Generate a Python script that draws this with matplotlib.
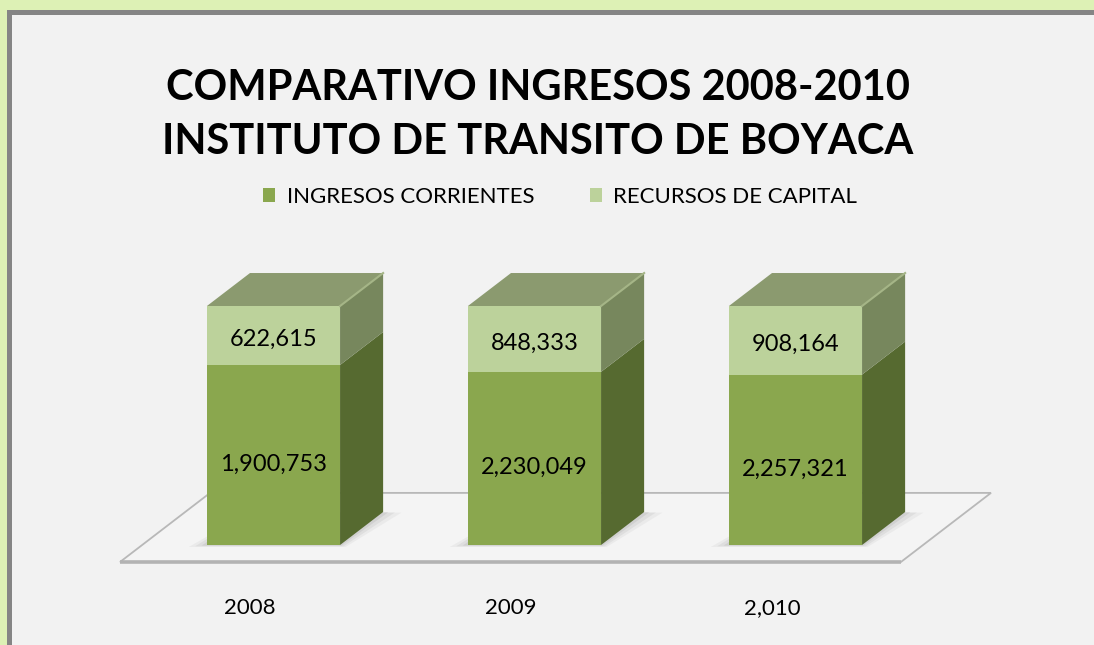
import matplotlib
matplotlib.use('Agg')
import matplotlib.pyplot as plt
from matplotlib.patches import Polygon, Rectangle
from matplotlib import font_manager
import numpy as np

# data
years = ['2008', '2009', '2,010']
ingresos_corrientes = [1900753, 2230049, 2257321]
recursos_capital = [622615, 848333, 908164]
series_names = ['INGRESOS CORRIENTES', 'RECURSOS DE CAPITAL']
title_lines = ['COMPARATIVO INGRESOS 2008-2010', 'INSTITUTO DE TRANSITO DE BOYACA']

W, H = 1094, 645
installed = {f.name for f in font_manager.fontManager.ttflist}
if 'Liberation Sans Narrow' in installed:
    title_font, title_size = 'Liberation Sans Narrow', 35
else:
    title_font, title_size = 'Lato', 30
body_font = 'Lato'

front = ['#8aa74e', '#bcd29b']
side = ['#566a30', '#77875d']
top_col = '#8b9a6f'

fig = plt.figure(figsize=(W / 100, H / 100), dpi=100)
fig.patch.set_facecolor('#ddf1b5')
fig.add_artist(Rectangle((7 / W, -1), 2, 2 - 10 / H, transform=fig.transFigure,
                         facecolor='#858585', edgecolor='none', zorder=-2))
fig.add_artist(Rectangle((12 / W, -1), 2, 2 - 15 / H, transform=fig.transFigure,
                         facecolor='#f2f2f2', edgecolor='none', zorder=-1))

ax = fig.add_axes([0, 0, 1, 1])
ax.axis('off')
# one category = 261 px, 1 % = 2.39 px, first bar at 273.5 px, 0 % at 100 px from the bottom
ax.set_xlim(-273.5 / 261, (W - 273.5) / 261)
ax.set_ylim(-100 / 2.39, (H - 100) / 2.39)

x = np.arange(len(years))
total = np.array(ingresos_corrientes) + np.array(recursos_capital)
pct_ic = np.array(ingresos_corrientes) / total * 100
pct_rc = np.array(recursos_capital) / total * 100
width = 0.51
dx, dy = 0.165, 13.8   # depth of the 3d boxes

# floor
fl_l = x[0] - width / 2 - 0.333
fl_r = x[-1] + width / 2 + 0.149
fl_y0, fl_y1, fl_dx = -7.1, 21.8, 0.345
ax.add_patch(Polygon([(fl_l, fl_y0), (fl_r, fl_y0), (fl_r + fl_dx, fl_y1), (fl_l + fl_dx, fl_y1)],
                     closed=True, facecolor='#f4f4f4', edgecolor='#b8b8b8', lw=1.3, zorder=1))
ax.plot([fl_l, fl_r], [fl_y0, fl_y0], color='#b3b3b3', lw=2.6, solid_capstyle='butt', zorder=1.5)

# soft shadows under the boxes
for i in range(len(x)):
    xl, xr = x[i] - width / 2, x[i] + width / 2
    for k, a in [(0.07, 0.06), (0.045, 0.08), (0.02, 0.10)]:
        ax.add_patch(Polygon([(xl - k, -k * 12), (xr + k * 0.3, -k * 12),
                              (xr + dx + k, dy - k * 4), (xl + dx, dy)],
                             closed=True, facecolor='#555555', edgecolor='none', alpha=a, zorder=2))

b1 = ax.bar(x, pct_ic, width, color=front[0], zorder=3, label=series_names[0])
b2 = ax.bar(x, pct_rc, width, bottom=pct_ic, color=front[1], zorder=3, label=series_names[1])

for i in range(len(x)):
    xl, xr = x[i] - width / 2, x[i] + width / 2
    for y0, y1, c in [(0, pct_ic[i], side[0]), (pct_ic[i], 100, side[1])]:
        ax.add_patch(Polygon([(xr, y0), (xr + dx, y0 + dy), (xr + dx, y1 + dy), (xr, y1)],
                             closed=True, facecolor=c, edgecolor='none', zorder=3))
    ax.add_patch(Polygon([(xl, 100), (xl + dx, 100 + dy), (xr + dx, 100 + dy), (xr, 100)],
                         closed=True, facecolor=top_col, edgecolor='none', zorder=3))
    ax.plot([xr, xr + dx], [100, 100 + dy], color='#a5b587', lw=1.5, zorder=3.5)

    ax.text(x[i], pct_ic[i] / 2 - 3.8, f'{ingresos_corrientes[i]:,}', ha='center', va='center',
            fontsize=17, family=body_font, zorder=5)
    ax.text(x[i], pct_ic[i] + pct_rc[i] / 2 - 1.7, f'{recursos_capital[i]:,}', ha='center', va='center',
            fontsize=17, family=body_font, zorder=5)
    ax.text(x[i] - 0.09, -26.5, years[i], ha='center', va='center', fontsize=16, family=body_font)

for line, ypx in zip(title_lines, [100, 154]):
    fig.text(537.5 / W, 1 - ypx / H, line, ha='center', va='baseline', fontsize=title_size,
             fontweight='bold', family=title_font)

ax.legend(handles=[b1, b2], labels=series_names, loc='center', bbox_to_anchor=(560 / W, 1 - 197 / H),
          bbox_transform=fig.transFigure, ncol=2, frameon=False, prop={'family': body_font, 'size': 16},
          handlelength=0.55, handleheight=0.55, handletextpad=0.5, columnspacing=2.5)

fig.savefig('out.png', dpi=100, facecolor=fig.get_facecolor())
